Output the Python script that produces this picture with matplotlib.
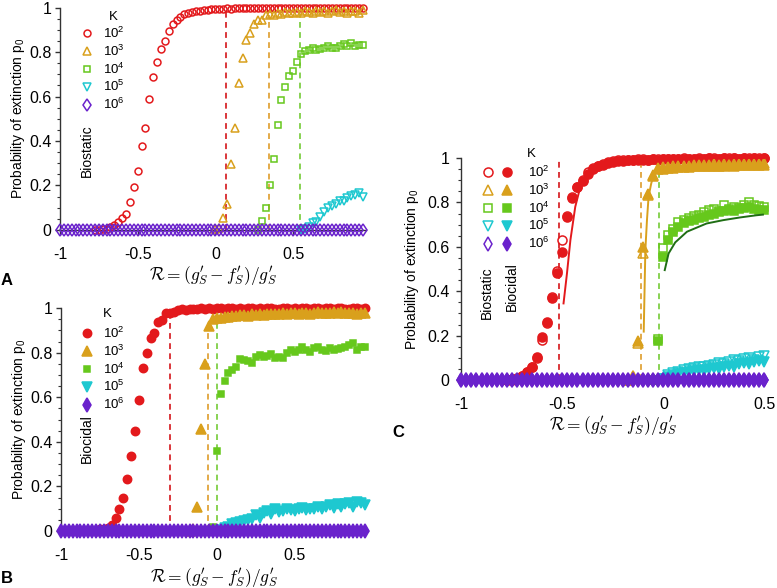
import numpy as np
import matplotlib
matplotlib.use("Agg")
import matplotlib.pyplot as plt
from matplotlib.ticker import MultipleLocator
from matplotlib.legend_handler import HandlerTuple

plt.rcParams["font.family"] = ["Liberation Sans", "DejaVu Sans"]
plt.rcParams["mathtext.fontset"] = "custom"
plt.rcParams["mathtext.rm"] = "Liberation Sans"
plt.rcParams["mathtext.it"] = "Liberation Sans:italic"
plt.rcParams["mathtext.bf"] = "Liberation Sans:bold"
plt.rcParams["axes.unicode_minus"] = False

STEP = 0.025
K_LABELS = ["10$^2$", "10$^3$", "10$^4$", "10$^5$", "10$^6$"]
Y_TICKS = [0, 0.2, 0.4, 0.6, 0.8, 1]
Y_TICK_LABELS = ["0", "0.2", "0.4", "0.6", "0.8", "1"]
X_TICKS = [-1, -0.5, 0, 0.5]
X_TICK_LABELS = ["-1", "-0.5", "0", "0.5"]

# panel A: biostatic
a_k2_start = -0.775
a_k2 = [0.0, 0.0, 0.003, 0.006, 0.012, 0.022, 0.037, 0.052, 0.072, 0.127, 0.192, 0.266,
        0.379, 0.46, 0.588, 0.689, 0.754, 0.813, 0.849, 0.895, 0.925, 0.943, 0.958, 0.973,
        0.975, 0.982, 0.985, 0.987, 0.99, 0.99, 0.992, 0.993, 0.995, 0.996, 0.997, 0.996,
        0.998, 0.997, 0.999, 0.998, 0.997, 0.999, 1.0, 0.998, 0.999, 0.997, 0.999, 1.0,
        0.998, 0.999, 1.0, 0.998, 0.999, 0.997, 1.0, 0.999, 0.998, 1.0, 0.999, 0.998,
        1.0, 0.999, 0.998, 1.0, 0.999, 1.0, 0.998, 1.0, 0.999, 1.0]
a_k3_start = 0.0
a_k3 = [0.002, 0.01, 0.052, 0.117, 0.296, 0.457, 0.659, 0.775, 0.853, 0.888, 0.928, 0.943,
        0.946, 0.966, 0.97, 0.965, 0.975, 0.972, 0.98, 0.975, 0.978, 0.982, 0.975, 0.985,
        0.98, 0.978, 0.985, 0.98, 0.983, 0.978, 0.985, 0.99, 0.98, 0.985, 0.975, 0.983,
        0.985, 0.978, 0.99]
a_k4_start = 0.275
a_k4 = [0.0, 0.042, 0.097, 0.202, 0.319, 0.472, 0.584, 0.641, 0.692, 0.716, 0.756, 0.793,
        0.805, 0.811, 0.819, 0.808, 0.816, 0.82, 0.826, 0.817, 0.819, 0.826, 0.835, 0.826,
        0.841, 0.829, 0.831, 0.831]
a_k5_start = 0.55
a_k5 = [0.0, 0.003, 0.012, 0.033, 0.035, 0.06, 0.08, 0.1, 0.108, 0.117, 0.132, 0.132,
        0.142, 0.153, 0.157, 0.165, 0.15]
a_k6_n = 79  # all zero from -1 to 0.95
a_thresholds = [0.066, 0.343, 0.546]
a_threshold_tops = [0.99, 0.965, 0.97]

# panel B: biocidal
b_k2_start = -0.775
b_k2 = [0.0, 0.008, 0.01, 0.015, 0.025, 0.06, 0.10, 0.148, 0.232, 0.337, 0.45, 0.588,
        0.73, 0.80, 0.868, 0.89, 0.937, 0.948, 0.977, 0.978, 0.985, 0.99, 0.995, 0.993,
        0.997, 0.998, 0.996, 0.999, 0.998, 1.0, 0.997, 0.999, 1.0, 0.998, 0.999, 1.0,
        0.997, 0.999, 0.998, 1.0, 0.999, 0.997, 1.0, 0.998, 0.999, 1.0, 0.998, 0.997,
        1.0, 0.999, 0.998, 1.0, 0.997, 0.999, 1.0, 0.998, 0.999, 1.0, 0.997, 0.999,
        1.0, 0.998, 0.999, 1.0, 0.998, 0.997, 1.0, 0.999, 0.998, 0.999]
b_k3_start = -0.175
b_k3 = [0.0, 0.01, 0.108, 0.456, 0.75, 0.918, 0.95, 0.955, 0.958, 0.962, 0.96, 0.965,
        0.963, 0.968, 0.97, 0.966, 0.972, 0.97, 0.974, 0.971, 0.975, 0.972, 0.976, 0.974,
        0.978, 0.975, 0.977, 0.979, 0.975, 0.978, 0.98, 0.976, 0.979, 0.981, 0.977, 0.98,
        0.978, 0.982, 0.979, 0.981, 0.978, 0.98, 0.977, 0.975, 0.98, 0.978]
b_k4_start = -0.05
b_k4 = [0.0, 0.018, 0.36, 0.615, 0.675, 0.708, 0.723, 0.738, 0.77, 0.768, 0.765, 0.753,
        0.783, 0.79, 0.78, 0.786, 0.795, 0.775, 0.78, 0.778, 0.798, 0.813, 0.805, 0.813,
        0.828, 0.813, 0.805, 0.82, 0.828, 0.813, 0.81, 0.82, 0.813, 0.816, 0.82, 0.828,
        0.835, 0.843, 0.813, 0.828, 0.825]
b_k5_start = 0.0
b_k5 = [0.0, 0.005, 0.015, 0.02, 0.03, 0.035, 0.04, 0.045, 0.05, 0.055, 0.07, 0.06,
        0.08, 0.09, 0.075, 0.1, 0.085, 0.09, 0.1, 0.095, 0.09, 0.1, 0.105, 0.095, 0.1,
        0.1, 0.11, 0.1, 0.11, 0.115, 0.105, 0.12, 0.11, 0.12, 0.125, 0.11, 0.13, 0.125,
        0.115]
b_k6_n = 79
b_thresholds = [-0.30, -0.055, 0.0]
b_threshold_tops = [0.975, 0.94, 0.965]

# panel C: both mechanisms, open = biostatic, filled = biocidal
c_k2_start = -0.775
c_k2_open = [0.0, 0.003, 0.007, 0.018, 0.037, 0.06, 0.10, 0.18, 0.255, 0.375, 0.49, 0.63,
             0.738, 0.826, 0.871, 0.90, 0.935, 0.955, 0.965, 0.975, 0.982, 0.985, 0.99,
             0.99, 0.992, 0.993, 0.994, 0.995, 0.993, 0.996, 0.995, 0.997, 0.996, 0.995,
             0.997, 0.998, 0.996, 0.997, 0.998, 0.997, 0.999, 0.998, 0.997, 0.999, 0.998,
             0.999, 0.997, 0.999, 0.998, 0.999, 0.998, 0.999]
c_k2_fill = [0.0, 0.002, 0.006, 0.016, 0.035, 0.058, 0.105, 0.195, 0.26, 0.37, 0.48, 0.578,
             0.735, 0.82, 0.868, 0.895, 0.93, 0.95, 0.962, 0.97, 0.978, 0.982, 0.985,
             0.988, 0.99, 0.991, 0.99, 0.993, 0.992, 0.994, 0.993, 0.995, 0.994, 0.996,
             0.995, 0.996, 0.997, 0.995, 0.997, 0.996, 0.998, 0.997, 0.996, 0.998, 0.997,
             0.998, 0.996, 0.998, 0.997, 0.998, 0.997, 0.998]
c_k3_start = -0.175
c_k3_open = [0.0, 0.02, 0.165, 0.57, 0.833, 0.923, 0.953, 0.958, 0.96, 0.962, 0.965, 0.963,
             0.966, 0.968, 0.967, 0.97, 0.968, 0.971, 0.97, 0.972, 0.97, 0.973, 0.975,
             0.972, 0.974, 0.975, 0.973, 0.976]
c_k3_fill = [0.0, 0.02, 0.175, 0.60, 0.84, 0.92, 0.95, 0.952, 0.955, 0.957, 0.958, 0.96,
             0.959, 0.962, 0.963, 0.962, 0.965, 0.963, 0.966, 0.965, 0.967, 0.966, 0.968,
             0.967, 0.969, 0.968, 0.97, 0.969]
c_k4_start = -0.05
c_k4_open = [0.0, 0.185, 0.594, 0.653, 0.68, 0.71, 0.72, 0.73, 0.74, 0.745, 0.755, 0.765,
             0.77, 0.76, 0.787, 0.77, 0.78, 0.775, 0.79, 0.80, 0.79, 0.785, 0.78]
c_k4_fill = [0.0, 0.178, 0.555, 0.63, 0.665, 0.69, 0.705, 0.715, 0.72, 0.73, 0.735, 0.745,
             0.75, 0.755, 0.76, 0.765, 0.76, 0.77, 0.775, 0.78, 0.77, 0.765, 0.765]
c_k5_start = 0.0
c_k5_open = [0.005, 0.022, 0.03, 0.038, 0.045, 0.05, 0.055, 0.06, 0.058, 0.065, 0.067,
             0.075, 0.072, 0.08, 0.09, 0.085, 0.095, 0.097, 0.09, 0.105, 0.11]
c_k5_fill = [0.003, 0.012, 0.02, 0.025, 0.03, 0.035, 0.04, 0.045, 0.04, 0.05, 0.055, 0.05,
             0.06, 0.065, 0.06, 0.07, 0.075, 0.07, 0.08, 0.085, 0.08]
c_k6_n = 61  # all zero from -1 to 0.5
c_thresholds = [-0.518, -0.109, -0.023]
c_threshold_tops = [1.0, 0.99, 0.99]

# theory curves in panel C
c_theory_k2_x = [-0.494, -0.477, -0.46, -0.436, -0.411, -0.37, -0.312, -0.23, -0.1, 0.1, 0.3, 0.5]
c_theory_k2_y = [0.345, 0.48, 0.63, 0.78, 0.87, 0.93, 0.975, 0.995, 1.0, 1.0, 1.0, 1.0]
c_theory_k3_x = [-0.097, -0.093, -0.089, -0.081, -0.073, -0.06, -0.048, -0.035, -0.023]
c_theory_k3_y = [0.218, 0.40, 0.585, 0.72, 0.826, 0.885, 0.923, 0.945, 0.953]
c_theory_k4_x = [0.007, 0.026, 0.059, 0.117, 0.214, 0.296, 0.378, 0.46, 0.493]
c_theory_k4_y = [0.495, 0.57, 0.62, 0.668, 0.705, 0.72, 0.732, 0.742, 0.745]

# ---- styles ----
COLORS = ["#e3191c", "#d9a01c", "#66c81c", "#1ec8d0", "#6a22cc"]
MARKERS = ["o", "^", "s", "v", "d"]
DASH_COLORS = ["#d8262b", "#e0a43a", "#7fcf45"]
THEORY_COLORS = ["#e3191c", "#d9a01c", "#1f6e14"]
AXIS_GREY = "#333333"
LEGEND_FS = 9.5
XLABEL = r"$\mathcal{R} = (g_S^{\prime} - f_S^{\prime})/g_S^{\prime}$"


def grid(start, n):
    return np.round(start + STEP * np.arange(n), 4)


def plot_series(ax, start, values, idx, filled, ms):
    mfc = COLORS[idx] if filled else "none"
    line, = ax.plot(grid(start, len(values)), values, linestyle="none",
                    marker=MARKERS[idx], markersize=ms[idx], markerfacecolor=mfc,
                    markeredgecolor=COLORS[idx], markeredgewidth=1.1, clip_on=False,
                    zorder=3 + idx * 0.1)
    return line


def style_axes(ax, xmax, ytick_pad=2.5, ylabel_pad=1.5):
    ax.set_xlim(-1, xmax)
    ax.set_ylim(0, 1)
    for side in ("top", "right"):
        ax.spines[side].set_visible(False)
    for side in ("left", "bottom"):
        ax.spines[side].set_color(AXIS_GREY)
        ax.spines[side].set_linewidth(1.0)
    ax.set_yticks(Y_TICKS)
    ax.set_yticklabels(Y_TICK_LABELS)
    ax.yaxis.set_minor_locator(MultipleLocator(0.05))
    ax.set_xticks(X_TICKS)
    ax.set_xticklabels(X_TICK_LABELS)
    ax.tick_params(axis="both", which="major", direction="out", length=3.6, width=1,
                   color=AXIS_GREY, labelsize=11.5)
    ax.tick_params(axis="y", which="major", pad=ytick_pad)
    ax.tick_params(axis="x", which="major", pad=8.5)
    ax.tick_params(axis="y", which="minor", direction="out", length=2.2, width=0.8,
                   color=AXIS_GREY)
    ax.set_ylabel("Probability of extinction p$_0$", fontsize=10, labelpad=ylabel_pad)
    ax.set_xlabel(XLABEL, fontsize=12.5, math_fontfamily="cm")
    ax.xaxis.set_label_coords(0.5, -0.158)


def draw_thresholds(ax, xs, tops):
    for x, top, col in zip(xs, tops, DASH_COLORS):
        ax.vlines(x, 0, top, colors=col, linestyles=(0, (3.2, 2.4)), linewidth=1.3, zorder=2)


def k_legend(ax, handles, anchor, **kw):
    ax.legend(handles, K_LABELS, loc="upper left", bbox_to_anchor=anchor,
              frameon=False, borderpad=0, borderaxespad=0, labelspacing=0.2,
              fontsize=LEGEND_FS, **kw)


fig = plt.figure(figsize=(7.77, 5.88), dpi=100)

# ---- panel A ----
ax_a = fig.add_axes([0.0772, 0.609, 0.394, 0.378])
style_axes(ax_a, 0.97)
draw_thresholds(ax_a, a_thresholds, a_threshold_tops)
ms_a = [5, 6, 4.3, 6, 6.5]
handles_a = [
    plot_series(ax_a, a_k2_start, a_k2, 0, False, ms_a),
    plot_series(ax_a, a_k3_start, a_k3, 1, False, ms_a),
    plot_series(ax_a, a_k4_start, a_k4, 2, False, ms_a),
    plot_series(ax_a, a_k5_start, a_k5, 3, False, ms_a),
    plot_series(ax_a, -1.0, np.zeros(a_k6_n), 4, False, ms_a),
]
k_legend(ax_a, handles_a, (0.067, 0.919), handlelength=1.0, handletextpad=0.71)
ax_a.text(0.173, 0.957, "K", transform=ax_a.transAxes, fontsize=9.5, ha="center", va="center")
ax_a.text(0.088, 0.355, "Biostatic", transform=ax_a.transAxes, fontsize=10,
          rotation=90, ha="center", va="center")

# ---- panel B ----
ax_b = fig.add_axes([0.0785, 0.0969, 0.395, 0.379])
style_axes(ax_b, 0.97)
draw_thresholds(ax_b, b_thresholds, b_threshold_tops)
ms_b = [6, 7, 5, 7, 7]
handles_b = [
    plot_series(ax_b, b_k2_start, b_k2, 0, True, ms_b),
    plot_series(ax_b, b_k3_start, b_k3, 1, True, ms_b),
    plot_series(ax_b, b_k4_start, b_k4, 2, True, ms_b),
    plot_series(ax_b, b_k5_start, b_k5, 3, True, ms_b),
    plot_series(ax_b, -1.0, np.zeros(b_k6_n), 4, True, ms_b),
]
k_legend(ax_b, handles_b, (0.063, 0.921), handlelength=1.0, handletextpad=0.71)
ax_b.text(0.152, 0.975, "K", transform=ax_b.transAxes, fontsize=9.5, ha="center", va="center")
ax_b.text(0.085, 0.415, "Biocidal", transform=ax_b.transAxes, fontsize=10,
          rotation=90, ha="center", va="center")

# ---- panel C ----
ax_c = fig.add_axes([0.5937, 0.3537, 0.390, 0.3776])
style_axes(ax_c, 0.5, ytick_pad=5, ylabel_pad=4)
draw_thresholds(ax_c, c_thresholds, c_threshold_tops)
ms_c = [6.5, 7.5, 5.5, 7.5, 7]
c_series = [
    (c_k2_start, c_k2_open, c_k2_fill),
    (c_k3_start, c_k3_open, c_k3_fill),
    (c_k4_start, c_k4_open, c_k4_fill),
    (c_k5_start, c_k5_open, c_k5_fill),
    (-1.0, np.zeros(c_k6_n), np.zeros(c_k6_n)),
]
handles_c = []
for i, (start, v_open, v_fill) in enumerate(c_series):
    h_fill = plot_series(ax_c, start, v_fill, i, True, ms_c)
    h_open = plot_series(ax_c, start, v_open, i, False, ms_c)
    handles_c.append((h_open, h_fill))
for tx, ty, col in zip([c_theory_k2_x, c_theory_k3_x, c_theory_k4_x],
                       [c_theory_k2_y, c_theory_k3_y, c_theory_k4_y], THEORY_COLORS):
    ax_c.plot(tx, ty, color=col, linewidth=1.4, zorder=4, clip_on=False)
k_legend(ax_c, handles_c, (0.0675, 0.97), handlelength=2.4, handletextpad=1.12,
         handler_map={tuple: HandlerTuple(ndivide=None, pad=0.6)})
ax_c.text(0.232, 1.02, "K", transform=ax_c.transAxes, fontsize=9.5, ha="center", va="center")
ax_c.text(0.085, 0.392, "Biostatic", transform=ax_c.transAxes, fontsize=10,
          rotation=90, ha="center", va="center")
ax_c.text(0.167, 0.419, "Biocidal", transform=ax_c.transAxes, fontsize=10,
          rotation=90, ha="center", va="center")

# panel letters
fig.text(0.009, 0.523, "A", fontsize=12, fontweight="bold", ha="center", va="center")
fig.text(0.009, 0.003, "B", fontsize=12, fontweight="bold", ha="center", va="bottom")
fig.text(0.512, 0.265, "C", fontsize=12, fontweight="bold", ha="center", va="center")

fig.savefig("out.png", dpi=100)
